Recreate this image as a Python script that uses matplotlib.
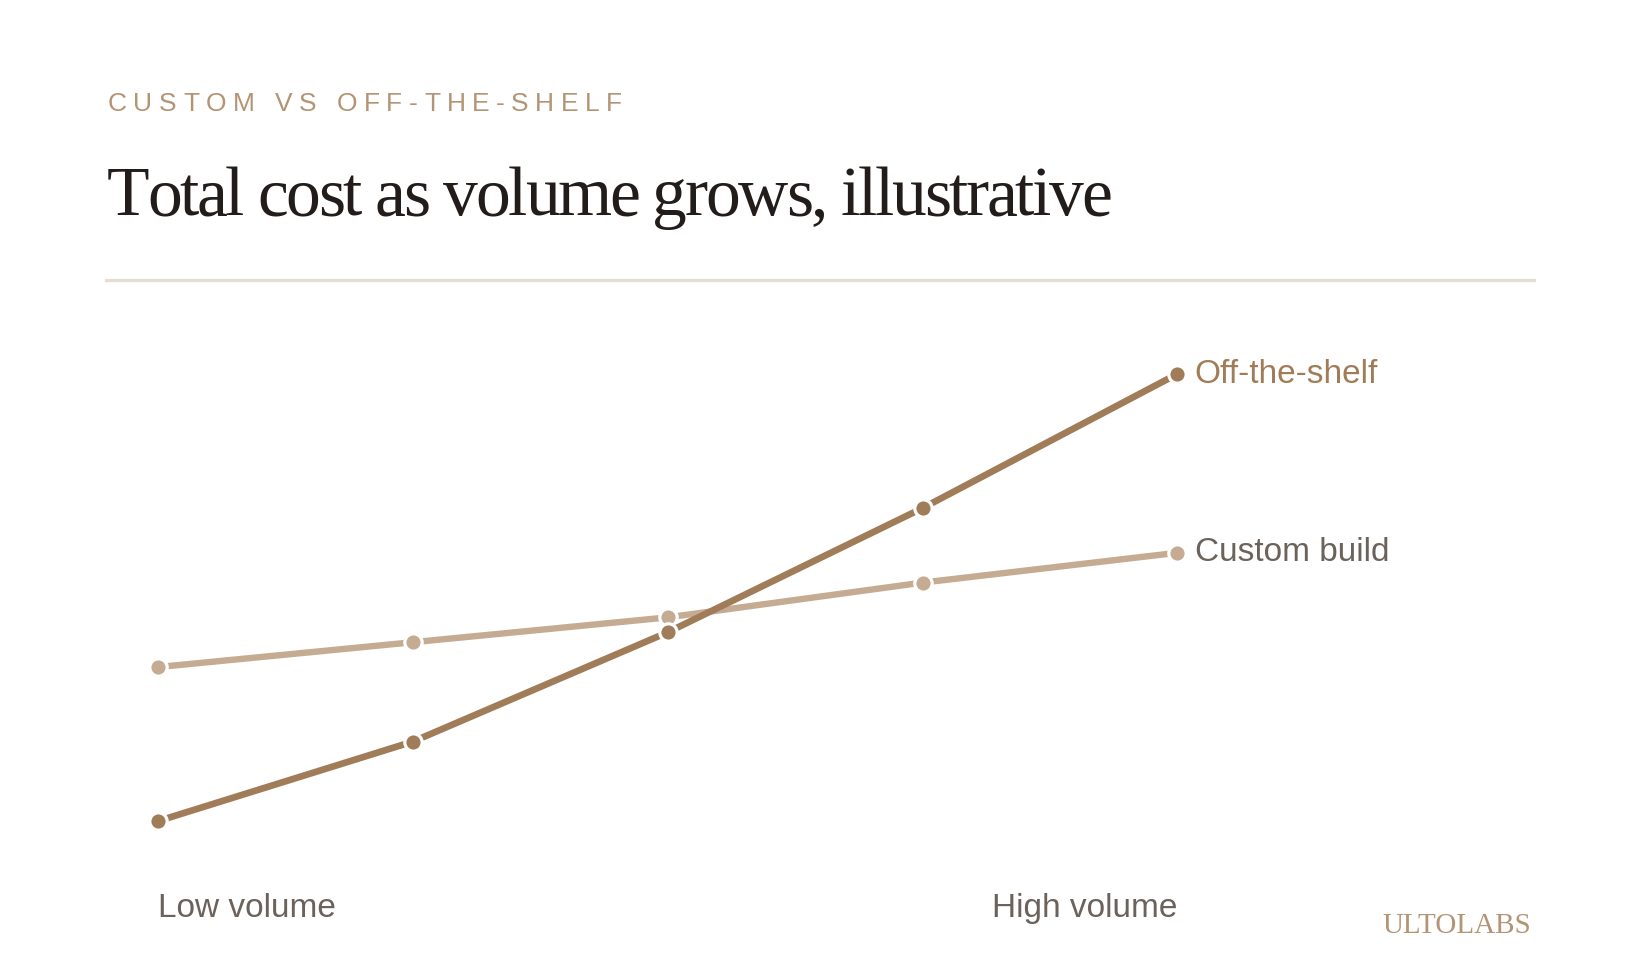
import matplotlib
matplotlib.use("Agg")
import matplotlib.pyplot as plt
from matplotlib.font_manager import FontProperties, findfont, get_font
from matplotlib.transforms import blended_transform_factory

# data (illustrative)
steps = [0, 1, 2, 3, 4]
custom_build = [41, 46, 51, 58, 64]
off_the_shelf = [10, 26, 48, 73, 100]
x_labels = ["Low volume", "High volume"]

W, H = 1639, 980
OFF_COL = "#a07c58"
CUSTOM_COL = "#c4ab92"
GREY = "#6b625b"


def fx(px):
    return px / W


def fy(py):
    return 1 - py / H


def tracked_text(fig, s, x_px, y_px, size, family, color, total_w):
    # draws text char by char, spread so it spans total_w pixels
    fp = FontProperties(family=family, size=size)
    ft = get_font(findfont(fp))
    ft.set_size(size, fig.dpi)
    adv = [ft.load_char(ord(c)).linearHoriAdvance / 65536 for c in s]
    track = (total_w - sum(adv)) / (len(s) - 1)
    x = x_px
    for c, a in zip(s, adv):
        fig.text(fx(x), fy(y_px), c, fontproperties=fp, color=color,
                 ha="left", va="baseline")
        x += a + track


fig = plt.figure(figsize=(W / 100, H / 100), dpi=100, facecolor="white")

# header
tracked_text(fig, "CUSTOM VS OFF-THE-SHELF", 108, 111, 19, "Liberation Sans",
             "#b39474", 514)
tracked_text(fig, "Total cost as volume grows, illustrative", 107, 215, 50,
             "Liberation Serif", "#221d1a", 1005)
fig.add_artist(plt.Line2D([fx(106), fx(1534)], [fy(280), fy(280)],
                          color="#e5ddd1", lw=2.3))

# plot area: x index 0..4 spans the marker columns
left, right = 158.3, 1177.3
top, bottom = 374, 821
ax = fig.add_axes([fx(left), fy(bottom), fx(right) - fx(left),
                   fy(top) - fy(bottom)])
ax.set_xlim(steps[0], steps[-1])
ax.set_ylim(min(off_the_shelf), max(off_the_shelf))
ax.axis("off")

ax.plot(steps, custom_build, color=CUSTOM_COL, lw=4.6, marker="o", ms=12.5,
        mfc=CUSTOM_COL, mec="white", mew=2.3, clip_on=False, zorder=2)
ax.plot(steps, off_the_shelf, color=OFF_COL, lw=4.8, marker="o", ms=12.5,
        mfc=OFF_COL, mec="white", mew=2.3, clip_on=False, zorder=3)

ax.annotate("Off-the-shelf", (steps[-1], off_the_shelf[-1]),
            xytext=(12.5, 0), textcoords="offset points", va="center",
            ha="left", fontsize=24, family="Liberation Sans", color=OFF_COL,
            annotation_clip=False)
ax.annotate("Custom build", (steps[-1], custom_build[-1]),
            xytext=(12.5, 0), textcoords="offset points", va="center",
            ha="left", fontsize=24, family="Liberation Sans", color=GREY,
            annotation_clip=False)

trans = blended_transform_factory(ax.transData, fig.transFigure)
ax.text(steps[0], fy(917), x_labels[0], transform=trans, ha="left",
        va="baseline", fontsize=24, family="Liberation Sans", color=GREY)
ax.text(steps[-1], fy(917), x_labels[1], transform=trans, ha="right",
        va="baseline", fontsize=24, family="Liberation Sans", color=GREY)

# brand mark
fig.text(fx(1531), fy(933), "ULTOLABS", ha="right", va="baseline",
         fontsize=21, family="Liberation Serif", color="#b39474")

fig.savefig("out.png", dpi=100, facecolor="white")
